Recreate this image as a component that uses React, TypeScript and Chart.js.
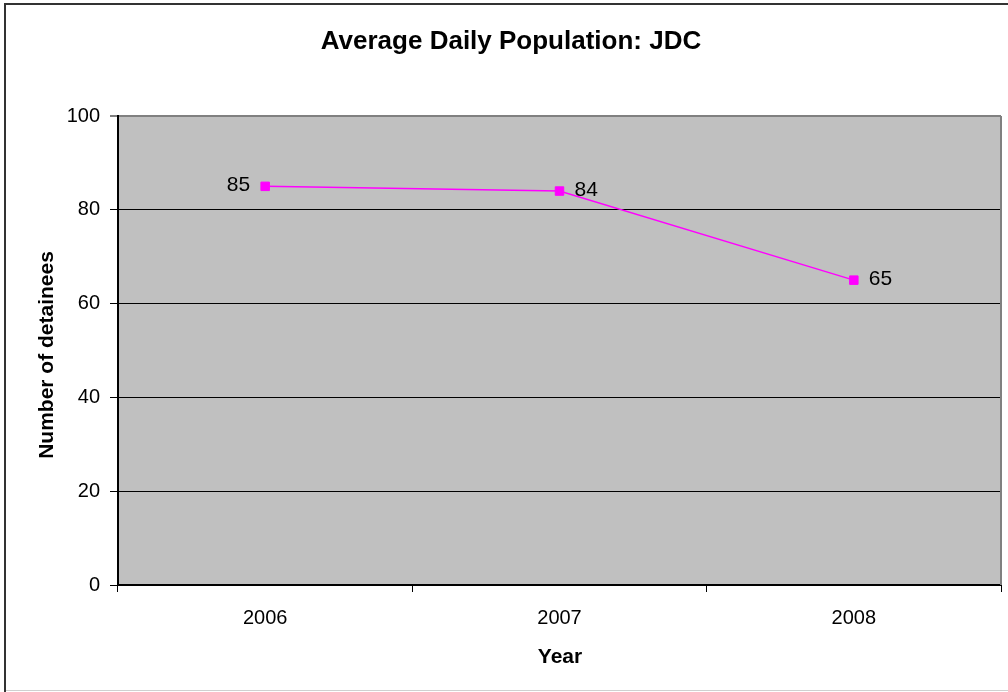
import React, { useEffect, useRef } from "react";
import { Chart, registerables } from "chart.js";

Chart.register(...registerables);

const years = ["2006", "2007", "2008"];
const detainees = [85, 84, 65];
const yTicks = [0, 20, 40, 60, 80, 100];
const labelSides = ["left", "right", "right"];

const chartTitle = "Average Daily Population: JDC";
const xTitle = "Year";
const yTitle = "Number of detainees";

const FONT = "'Liberation Sans', Arial, Helvetica, sans-serif";
const MAGENTA = "#FF00FF";

const decorPlugin = {
  id: "decor",
  beforeDraw(chart: any) {
    const { ctx, chartArea } = chart;
    ctx.save();
    ctx.fillStyle = "#ffffff";
    ctx.fillRect(0, 0, chart.width, chart.height);
    ctx.fillStyle = "#C0C0C0";
    ctx.fillRect(chartArea.left, chartArea.top, chartArea.right - chartArea.left, chartArea.bottom - chartArea.top);
    ctx.restore();
  },
  afterDraw(chart: any) {
    const { ctx, chartArea } = chart;
    ctx.save();
    // outer frame
    ctx.strokeStyle = "#333333";
    ctx.lineWidth = 2;
    ctx.beginPath();
    ctx.moveTo(5, chart.height);
    ctx.lineTo(5, 4);
    ctx.lineTo(chart.width + 2, 4);
    ctx.stroke();
    ctx.strokeStyle = "#d0d0d0";
    ctx.lineWidth = 1;
    ctx.beginPath();
    ctx.moveTo(6, 690.5);
    ctx.lineTo(chart.width, 690.5);
    ctx.stroke();

    // plot area right border
    ctx.strokeStyle = "#808080";
    ctx.lineWidth = 2;
    ctx.beginPath();
    ctx.moveTo(chartArea.right, chartArea.top);
    ctx.lineTo(chartArea.right, chartArea.bottom);
    ctx.stroke();

    // titles
    ctx.fillStyle = "#000";
    ctx.textAlign = "center";
    ctx.textBaseline = "alphabetic";
    ctx.font = `bold 26px ${FONT}`;
    ctx.fillText(chartTitle, 511, 49);
    ctx.font = `bold 21px ${FONT}`;
    ctx.fillText(xTitle, 560, 663);
    ctx.translate(53, 355);
    ctx.rotate(-Math.PI / 2);
    ctx.fillText(yTitle, 0, 0);
    ctx.restore();

    // value labels
    const meta = chart.getDatasetMeta(0);
    ctx.save();
    ctx.font = `21px ${FONT}`;
    ctx.fillStyle = "#000";
    ctx.textBaseline = "middle";
    meta.data.forEach((pt: any, i: number) => {
      const side = labelSides[i];
      ctx.textAlign = side === "left" ? "right" : "left";
      const x = side === "left" ? pt.x - 15 : pt.x + 15;
      ctx.fillText(String(detainees[i]), x, pt.y - 1);
    });
    ctx.restore();
  },
};

export default function App() {
  const ref = useRef<HTMLCanvasElement>(null);

  useEffect(() => {
    if (!ref.current) return;
    const chart = new Chart(ref.current, {
      type: "line",
      data: {
        labels: years,
        datasets: [
          {
            data: detainees,
            borderColor: MAGENTA,
            backgroundColor: MAGENTA,
            borderWidth: 1.5,
            pointStyle: "rect",
            pointRadius: 6,
            pointBorderWidth: 1,
            pointBackgroundColor: MAGENTA,
            pointBorderColor: MAGENTA,
            tension: 0,
          },
        ],
      },
      plugins: [decorPlugin],
      options: {
        responsive: false,
        animation: false,
        devicePixelRatio: 1,
        layout: { padding: { top: 116, right: 3, left: 0, bottom: 0 } },
        plugins: {
          legend: { display: false },
          title: { display: false },
          tooltip: { enabled: false },
        },
        scales: {
          x: {
            type: "category",
            offset: true,
            afterFit(scale: any) {
              scale.height = 107;
            },
            grid: {
              offset: true,
              drawOnChartArea: false,
              drawTicks: true,
              tickLength: 7,
              color: "#000",
              lineWidth: 1,
            },
            border: { display: true, color: "#000", width: 2 },
            ticks: {
              color: "#000",
              font: { family: FONT, size: 20 },
              padding: 14,
              maxRotation: 0,
            },
          },
          y: {
            min: 0,
            max: 100,
            afterFit(scale: any) {
              scale.width = 118;
            },
            afterBuildTicks(scale: any) {
              scale.ticks = yTicks.map((v) => ({ value: v }));
            },
            grid: {
              drawTicks: true,
              tickLength: 8,
              color: (c: any) => (c.tick && c.tick.value === 100 ? "#808080" : "#000"),
              lineWidth: (c: any) => (c.tick && c.tick.value === 100 ? 2 : 1),
            },
            border: { display: true, color: "#000", width: 2 },
            ticks: {
              color: "#000",
              font: { family: FONT, size: 20 },
              padding: 10,
            },
          },
        },
      },
    });
    return () => chart.destroy();
  }, []);

  return (
    <div style={{ position: "absolute", left: 0, top: 0, width: 1008, height: 692 }}>
      <canvas ref={ref} width={1008} height={692} style={{ display: "block", width: 1008, height: 692 }} />
    </div>
  );
}
